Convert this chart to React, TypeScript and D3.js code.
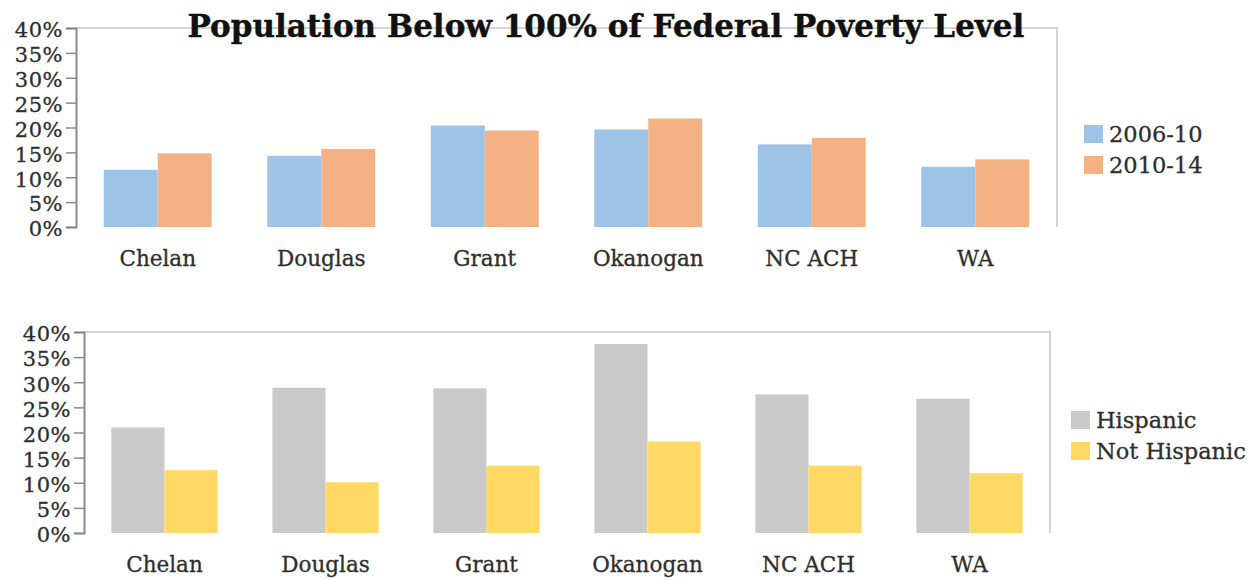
import React, { useEffect, useRef } from 'react';
import * as d3 from 'd3';

const counties = ['Chelan', 'Douglas', 'Grant', 'Okanogan', 'NC ACH', 'WA'];
const yTicks = [0, 5, 10, 15, 20, 25, 30, 35, 40];

// top panel: by period
const periodSeries = ['2006-10', '2010-14'];
const period0610 = [11.5, 14.3, 20.4, 19.6, 16.6, 12.1];
const period1014 = [14.8, 15.7, 19.4, 21.8, 17.9, 13.6];

// bottom panel: by ethnicity
const ethSeries = ['Hispanic', 'Not Hispanic'];
const hispanic = [21.0, 28.9, 28.8, 37.6, 27.6, 26.7];
const notHispanic = [12.5, 10.1, 13.4, 18.2, 13.4, 11.9];

const FONT = '"DejaVu Serif", serif';
const TEXT = '#2e2e2e';

function drawPanel(svg, opts) {
  const { left, right, top, bottom, series, values, colors, legendX, legendY } = opts;
  const g = svg.append('g');

  const x0 = d3.scaleBand().domain(counties).range([left, right]).paddingInner(0.34).paddingOuter(0.17);
  const x1 = d3.scaleBand().domain(series).range([0, x0.bandwidth()]);
  const y = d3.scaleLinear().domain([0, 40]).range([bottom, top]);

  // frame (top + right)
  g.append('path')
    .attr('d', `M${left},${top}H${right}V${bottom}`)
    .attr('fill', 'none')
    .attr('stroke', '#d4d4d4')
    .attr('stroke-width', 2);

  // bars
  series.forEach((s, si) => {
    g.selectAll(null)
      .data(values[si])
      .enter()
      .append('rect')
      .attr('x', (d, i) => x0(counties[i]) + x1(s))
      .attr('y', (d) => y(d))
      .attr('width', x1.bandwidth())
      .attr('height', (d) => y(0) - y(d))
      .attr('fill', colors[si]);
  });

  // y axis
  const axis = g.append('g')
    .attr('transform', `translate(${left},0)`)
    .call(d3.axisLeft(y).tickValues(yTicks).tickSize(10).tickPadding(3).tickFormat((d) => d + '%'));
  axis.select('.domain').attr('stroke', '#8a8a8a').attr('stroke-width', 2);
  axis.selectAll('.tick line').attr('stroke', '#8a8a8a').attr('stroke-width', 1.5);
  axis.selectAll('.tick text')
    .attr('font-family', FONT)
    .attr('font-size', 21)
    .attr('letter-spacing', 0.5)
    .attr('fill', TEXT)
    .attr('stroke', TEXT)
    .attr('stroke-width', 0.3)
    .attr('dy', '0.42em');

  // category labels
  g.selectAll(null)
    .data(counties)
    .enter()
    .append('text')
    .attr('x', (d) => x0(d) + x0.bandwidth() / 2)
    .attr('y', bottom + 39)
    .attr('text-anchor', 'middle')
    .attr('font-family', FONT)
    .attr('font-size', 21.5)
    .attr('fill', TEXT)
    .attr('stroke', TEXT)
    .attr('stroke-width', 0.3)
    .text((d) => d);

  // legend
  series.forEach((s, si) => {
    g.append('rect')
      .attr('x', legendX)
      .attr('y', legendY + si * 31)
      .attr('width', 19)
      .attr('height', 18)
      .attr('fill', colors[si]);
    g.append('text')
      .attr('x', legendX + 25)
      .attr('y', legendY + si * 31 + 17)
      .attr('font-family', FONT)
      .attr('font-size', 22.5)
      .attr('fill', TEXT)
      .attr('stroke', TEXT)
      .attr('stroke-width', 0.3)
      .text(s);
  });
}

export default function App() {
  const ref = useRef(null);

  useEffect(() => {
    const svg = d3.select(ref.current);
    svg.selectAll('*').remove();

    drawPanel(svg, {
      left: 76, right: 1057, top: 28, bottom: 227,
      series: periodSeries,
      values: [period0610, period1014],
      colors: ['#9dc3e6', '#f4b183'],
      legendX: 1084, legendY: 125,
    });

    drawPanel(svg, {
      left: 84, right: 1050, top: 332, bottom: 533,
      series: ethSeries,
      values: [hispanic, notHispanic],
      colors: ['#c9c9c9', '#ffd966'],
      legendX: 1071, legendY: 411,
    });

    svg.append('text')
      .attr('x', 606)
      .attr('y', 37)
      .attr('text-anchor', 'middle')
      .attr('font-family', FONT)
      .attr('font-weight', 'bold')
      .attr('font-size', 31)
      .attr('fill', '#111')
      .attr('stroke', '#111')
      .attr('stroke-width', 0.4)
      .text('Population Below 100% of Federal Poverty Level');
  }, []);

  return (
    <svg ref={ref} width={1255} height={580}
      style={{ position: 'absolute', left: 0, top: 0, background: '#fff' }} />
  );
}
